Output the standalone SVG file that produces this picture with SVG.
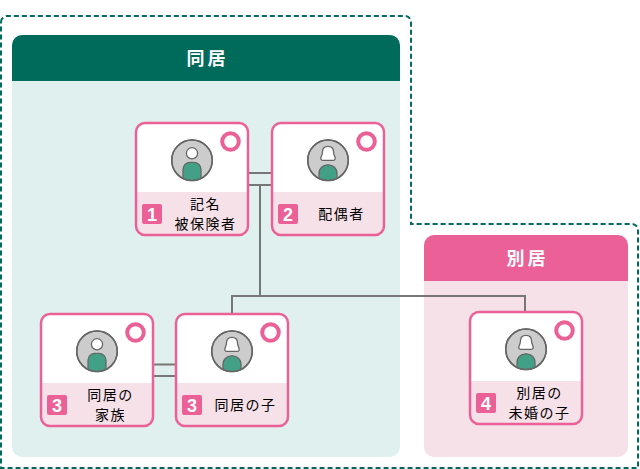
<svg xmlns="http://www.w3.org/2000/svg" width="640" height="469" viewBox="0 0 640 469">
  <style>
    text { font-family: "Noto Sans CJK JP", "Noto Sans", sans-serif; text-anchor: middle; }
    .title { font-size: 18px; font-weight: 700; fill: #fff; letter-spacing: 3px; }
    .label { font-size: 14px; fill: #000; letter-spacing: 1.500px; }
    .num { font-family: "Liberation Sans", Arial, sans-serif; font-size: 18px; font-weight: 700; fill: #fff; }
    .band { fill: #f6e1e8; }
    .badge { fill: #eb6197; }
    .ring { fill: #fff; stroke: #eb6197; stroke-width: 4; }
    .link { fill: none; stroke: #777; stroke-width: 2; }
    .face { fill: #ccc; stroke: #666; stroke-width: 1.5; }
    .hair { fill: #fff; stroke: #666; stroke-width: 1.3; }
    .body { fill: #42a087; stroke: #666; stroke-width: 1.3; }
  </style>
  <defs>
    <clipPath id="round"><circle r="20"/></clipPath>
    <!-- Card body: white face, tinted caption band and pink outline -->
    <g id="card">
      <rect x="1" y="1" width="112" height="112" rx="9" fill="#fff"/>
      <path class="band" d="M1 70H113V104a9 9 0 0 1-9 9H10a9 9 0 0 1-9-9Z"/>
      <rect x="1" y="1" width="112" height="112" rx="9" fill="none" stroke="#eb6197" stroke-width="2.500"/>
      <circle class="ring" cx="95.500" cy="19.500" r="8.300"/>
    </g>
    <g id="avatar-m">
      <circle class="face" r="20.300"/>
      <circle class="hair" cy="-7" r="5.600"/>
      <path class="body" clip-path="url(#round)" d="M-9 22V9a7 7 0 0 1 7-7h4a7 7 0 0 1 7 7V22Z"/>
      <circle r="20.300" fill="none" stroke="#666" stroke-width="1.500"/>
    </g>
    <g id="avatar-f">
      <circle class="face" r="20.300"/>
      <path class="hair" d="M-5.500 -8.500C-5.500 -12 -3.500 -14 0 -14C3.500 -14 5.500 -12 5.500 -8.500C5.500 -6 6.500 -4.500 7 -3C7.500 -1 7 0 5.500 0H-5.500C-7 0 -7.500 -1 -7 -3C-6.500 -4.500 -5.500 -6 -5.500 -8.500Z"/>
      <path class="body" clip-path="url(#round)" d="M-9 22V13a8.500 8.500 0 0 1 8.500 -8.500h1a8.500 8.500 0 0 1 8.500 8.500V22Z"/>
      <circle r="20.300" fill="none" stroke="#666" stroke-width="1.500"/>
    </g>
  </defs>

  <!-- Household boundary -->
  <path d="M1 22a6 6 0 0 1 6-6H405a6 6 0 0 1 6 6V224H632a6 6 0 0 1 6 6V468H1Z" fill="none" stroke="#006a5b" stroke-width="2" stroke-dasharray="5 3"/>

  <g id="panel-together">
    <path d="M12 81H400V447a10 10 0 0 1-10 10H22a10 10 0 0 1-10-10Z" fill="#dff0ef"/>
    <path d="M12 81V45a10 10 0 0 1 10-10H390a10 10 0 0 1 10 10V81Z" fill="#006a5b"/>
    <text class="title" x="207.500" y="65">同居</text>
  </g>
  <g id="panel-apart">
    <path d="M424 281H628V447a10 10 0 0 1-10 10H434a10 10 0 0 1-10-10Z" fill="#f6e1e8"/>
    <path d="M424 281V245a10 10 0 0 1 10-10H618a10 10 0 0 1 10 10V281Z" fill="#eb6197"/>
    <text class="title" x="527.500" y="265">別居</text>
  </g>

  <g id="connectors">
    <path class="link" d="M249 173H271M249 185H271M260 185V296M232 313V296H525V311M154 364.500H175M154 376H175"/>
  </g>

  <g id="node-1" transform="translate(135 122)">
    <use href="#card"/>
    <use href="#avatar-m" x="57" y="38.300"/>
    <rect class="badge" x="7" y="82" width="20" height="20" rx="2"/>
    <text class="num" x="17" y="98.500">1</text>
    <text class="label" x="70.500" y="87">記名</text>
    <text class="label" x="70.500" y="107">被保険者</text>
  </g>
  <g id="node-2" transform="translate(271 122)">
    <use href="#card"/>
    <use href="#avatar-f" x="57" y="38.300"/>
    <rect class="badge" x="7" y="82" width="20" height="20" rx="2"/>
    <text class="num" x="17" y="98.500">2</text>
    <text class="label" x="70.500" y="97">配偶者</text>
  </g>
  <g id="node-3a" transform="translate(40 313)">
    <use href="#card"/>
    <use href="#avatar-m" x="57" y="38.300"/>
    <rect class="badge" x="7" y="82" width="20" height="20" rx="2"/>
    <text class="num" x="17" y="98.500">3</text>
    <text class="label" x="70.500" y="87">同居の</text>
    <text class="label" x="70.500" y="107">家族</text>
  </g>
  <g id="node-3b" transform="translate(175 313)">
    <use href="#card"/>
    <use href="#avatar-f" x="57" y="38.300"/>
    <rect class="badge" x="7" y="82" width="20" height="20" rx="2"/>
    <text class="num" x="17" y="98.500">3</text>
    <text class="label" x="70.500" y="97">同居の子</text>
  </g>
  <g id="node-4" transform="translate(469 311)">
    <use href="#card"/>
    <use href="#avatar-f" x="57" y="38.300"/>
    <rect class="badge" x="7" y="82" width="20" height="20" rx="2"/>
    <text class="num" x="17" y="98.500">4</text>
    <text class="label" x="70.500" y="87">別居の</text>
    <text class="label" x="70.500" y="107">未婚の子</text>
  </g>
</svg>
